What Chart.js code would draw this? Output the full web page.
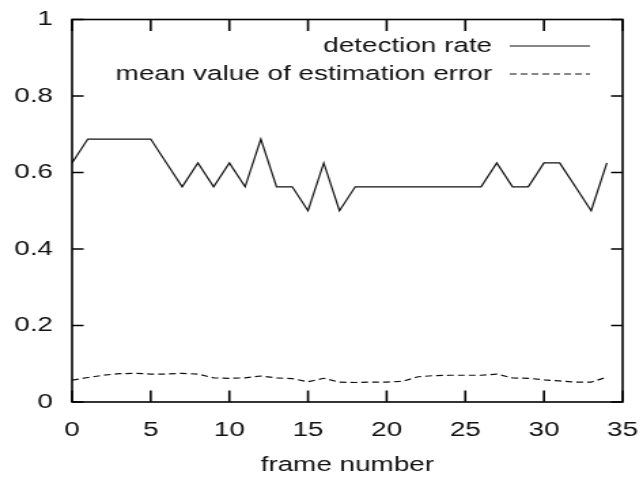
<!DOCTYPE html>
<html lang="en">
  <head>
    <meta charset="UTF-8">
    <title>Detection rate per frame</title>
    <script src="https://cdn.jsdelivr.net/npm/chart.js@4.4.1/dist/chart.umd.min.js"></script>
    <style>
      body { margin: 0; background: #fff; overflow: hidden; }
      /* the original plot is stretched sideways, so stretch the canvas the same way */
      #plot { transform: scaleX(1.3594); transform-origin: 0 0; }
    </style>
  </head>
  <body>
    <canvas id="plot" width="473" height="486"></canvas>
    <script>
      const frames = [0, 1, 2, 3, 4, 5, 6, 7, 8, 9, 10, 11, 12, 13, 14, 15, 16, 17,
                      18, 19, 20, 21, 22, 23, 24, 25, 26, 27, 28, 29, 30, 31, 32, 33, 34];
      const detectionRate = [0.625, 0.6875, 0.6875, 0.6875, 0.6875, 0.6875, 0.625, 0.5625, 0.625,
                             0.5625, 0.625, 0.5625, 0.6875, 0.5625, 0.5625, 0.5, 0.625, 0.5,
                             0.5625, 0.5625, 0.5625, 0.5625, 0.5625, 0.5625, 0.5625, 0.5625, 0.5625,
                             0.625, 0.5625, 0.5625, 0.625, 0.625, 0.5625, 0.5, 0.625];
      const estimationError = [0.057, 0.064, 0.070, 0.074, 0.075, 0.073, 0.073, 0.075, 0.073,
                               0.063, 0.062, 0.063, 0.068, 0.063, 0.061, 0.053, 0.062, 0.052,
                               0.051, 0.052, 0.052, 0.054, 0.066, 0.069, 0.070, 0.070, 0.070,
                               0.073, 0.063, 0.062, 0.058, 0.055, 0.052, 0.052, 0.065];
      const xTicks = [0, 5, 10, 15, 20, 25, 30, 35];
      const yTicks = [0, 0.2, 0.4, 0.6, 0.8, 1];

      const font = { family: '"Liberation Sans", Arial, sans-serif', size: 20.5 };

      // gnuplot style: closed frame, inward ticks on all sides, key top right
      const gnuplotFrame = {
        id: 'gnuplotFrame',
        afterDatasetsDraw(chart) {
          const ctx = chart.ctx;
          const a = chart.chartArea;
          const xs = chart.scales.x, ys = chart.scales.y;
          ctx.save();
          ctx.strokeStyle = '#000';
          ctx.lineWidth = 1.6;
          ctx.strokeRect(a.left, a.top, a.right - a.left, a.bottom - a.top);
          ctx.beginPath();
          xTicks.forEach(v => {
            const px = xs.getPixelForValue(v);
            ctx.moveTo(px, a.bottom); ctx.lineTo(px, a.bottom - 11.5);
            ctx.moveTo(px, a.top); ctx.lineTo(px, a.top + 11.5);
          });
          yTicks.forEach(v => {
            const py = ys.getPixelForValue(v);
            ctx.moveTo(a.left, py); ctx.lineTo(a.left + 8.5, py);
            ctx.moveTo(a.right, py); ctx.lineTo(a.right - 8.5, py);
          });
          ctx.stroke();

          // key
          ctx.font = font.size + 'px ' + font.family;
          ctx.fillStyle = '#111';
          ctx.textAlign = 'right';
          ctx.textBaseline = 'middle';
          chart.data.datasets.forEach((ds, i) => {
            const y = 46 + i * 28;
            ctx.fillText(ds.label, 362, y);
            ctx.beginPath();
            ctx.setLineDash(ds.borderDash || []);
            ctx.lineWidth = 1.2;
            ctx.strokeStyle = ds.borderColor;
            ctx.moveTo(375, y); ctx.lineTo(434, y);
            ctx.stroke();
          });
          ctx.restore();
        }
      };

      new Chart(document.getElementById('plot'), {
        type: 'line',
        data: {
          datasets: [{
            label: 'detection rate',
            data: frames.map((f, i) => ({ x: f, y: detectionRate[i] })),
            borderColor: '#111',
            borderWidth: 1.2,
            pointRadius: 0,
            tension: 0
          }, {
            label: 'mean value of estimation error',
            data: frames.map((f, i) => ({ x: f, y: estimationError[i] })),
            borderColor: '#111',
            borderWidth: 1.2,
            borderDash: [5, 3],
            pointRadius: 0,
            tension: 0
          }]
        },
        options: {
          responsive: false,
          animation: false,
          layout: { padding: { top: 19.5, right: 15, left: 0, bottom: 0 } },
          scales: {
            x: {
              type: 'linear',
              min: 0,
              max: 35,
              afterBuildTicks: s => { s.ticks = xTicks.map(v => ({ value: v })); },
              afterFit: s => { s.height = 84; s.paddingLeft = 0; s.paddingRight = 0; },
              grid: { display: false, drawTicks: false },
              border: { display: false },
              ticks: { color: '#111', font: font, padding: 16, maxRotation: 0 },
              title: { display: true, text: 'frame number', color: '#111', font: font, padding: { top: 6, bottom: 8 } }
            },
            y: {
              min: 0,
              max: 1,
              afterBuildTicks: s => { s.ticks = yTicks.map(v => ({ value: v })); },
              afterFit: s => { s.width = 53; s.paddingTop = 0; s.paddingBottom = 0; },
              grid: { display: false, drawTicks: false },
              border: { display: false },
              ticks: { color: '#111', font: font, padding: 14, callback: v => String(v) }
            }
          },
          plugins: {
            legend: { display: false },
            tooltip: { enabled: false }
          }
        },
        plugins: [gnuplotFrame]
      });
    </script>
  </body>
</html>
